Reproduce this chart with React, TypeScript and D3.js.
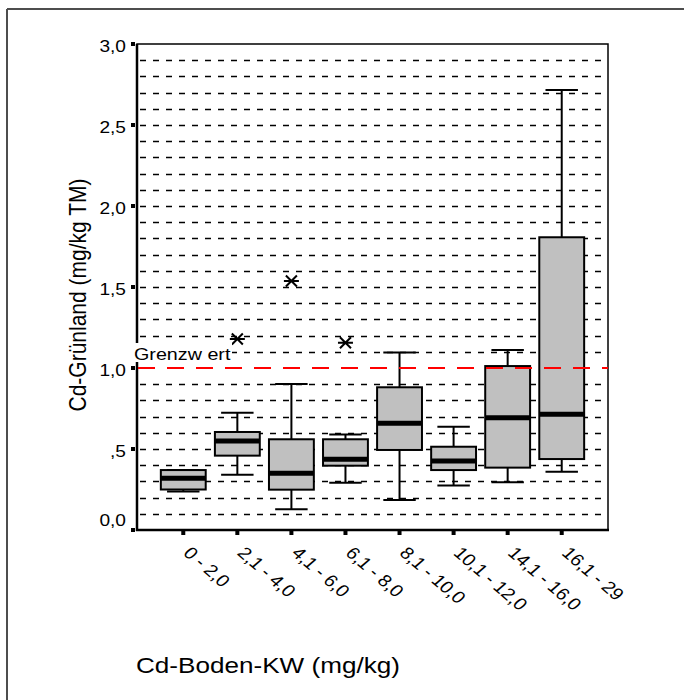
import React from 'react';
import * as d3 from 'd3';

const categories = ['0 - 2,0', '2,1 - 4,0', '4,1 - 6,0', '6,1 - 8,0', '8,1 - 10,0', '10,1 - 12,0', '14,1 - 16,0', '16,1 - 29'];
const lowerWhisker = [0.237, 0.341, 0.128, 0.292, 0.185, 0.274, 0.294, 0.36];
const q1 = [0.25, 0.459, 0.249, 0.397, 0.494, 0.37, 0.385, 0.438];
const median = [0.32, 0.549, 0.35, 0.436, 0.659, 0.426, 0.693, 0.714];
const q3 = [0.37, 0.605, 0.56, 0.56, 0.881, 0.514, 1.012, 1.807];
const upperWhisker = [0.37, 0.724, 0.901, 0.59, 1.095, 0.638, 1.111, 2.716];

const outlierCategory = ['2,1 - 4,0', '4,1 - 6,0', '6,1 - 8,0'];
const outlierValue = [1.179, 1.537, 1.156];

const yTicks = [0, 0.5, 1, 1.5, 2, 2.5, 3];
const yTickLabels = ['0,0', ',5', '1,0', '1,5', '2,0', '2,5', '3,0'];
const gridValues = d3.range(1, 30).map(i => i / 10);
const limitValue = 1.0;
const limitLabel = 'Grenzw ert';

const xTitle = 'Cd-Boden-KW (mg/kg)';
const yTitle = 'Cd-Grünland (mg/kg TM)';

const FONT = 'Arial, "Liberation Sans", sans-serif';
const SX = 1.16; // horizontal stretch of the exported text

export default function App() {
  const left = 137, right = 608, top = 44, bottom = 530;
  const x = d3.scalePoint<string>().domain(categories).range([left, right]).padding(0.856);
  const y = d3.scaleLinear().domain([0, 3]).range([bottom, top]);
  const step = x.step();
  const boxW = step * 0.83;
  const capW = step * 0.6;

  const star = (cx: number, cy: number) =>
    `M${cx - 7.5},${cy}L${cx + 7.5},${cy}M${cx - 5.5},${cy - 5.5}L${cx + 5.5},${cy + 5.5}M${cx - 5.5},${cy + 5.5}L${cx + 5.5},${cy - 5.5}`;

  return (
    <svg width={684} height={700} style={{ position: 'absolute', left: 0, top: 0, background: '#fff' }} fontFamily={FONT}>
      {/* outer frame (top + left only visible) */}
      <line x1={7} y1={9} x2={684} y2={9} stroke="#4d4d4d" strokeWidth={2} />
      <line x1={7} y1={9} x2={7} y2={700} stroke="#4d4d4d" strokeWidth={2} />

      {/* dashed grid */}
      {gridValues.filter(v => Math.abs(v - limitValue) > 1e-6).map(v => (
        <line key={v} x1={left + 3} x2={right} y1={Math.round(y(v)) + 0.5} y2={Math.round(y(v)) + 0.5}
          stroke="#000" strokeWidth={1.5} strokeDasharray="6 7" />
      ))}

      {/* plot frame */}
      <rect x={left} y={top} width={right - left} height={bottom - top} fill="none" stroke="#000" strokeWidth={1.5} />

      {/* boxes */}
      {categories.map((c, i) => {
        const cx = x(c)!;
        return (
          <g key={c}>
            <line x1={cx} x2={cx} y1={y(q3[i])} y2={y(upperWhisker[i])} stroke="#000" strokeWidth={2} />
            <line x1={cx} x2={cx} y1={y(q1[i])} y2={y(lowerWhisker[i])} stroke="#000" strokeWidth={2} />
            <line x1={cx - capW / 2} x2={cx + capW / 2} y1={y(upperWhisker[i])} y2={y(upperWhisker[i])} stroke="#000" strokeWidth={2} />
            <line x1={cx - capW / 2} x2={cx + capW / 2} y1={y(lowerWhisker[i])} y2={y(lowerWhisker[i])} stroke="#000" strokeWidth={2} />
            <rect x={cx - boxW / 2} y={y(q3[i])} width={boxW} height={y(q1[i]) - y(q3[i])}
              fill="#c0c0c0" stroke="#000" strokeWidth={2} />
            <line x1={cx - boxW / 2} x2={cx + boxW / 2} y1={y(median[i])} y2={y(median[i])} stroke="#000" strokeWidth={5} />
          </g>
        );
      })}

      {/* outliers */}
      {outlierCategory.map((c, i) => (
        <path key={c} d={star(x(c)!, y(outlierValue[i]))} stroke="#000" strokeWidth={2} fill="none" />
      ))}

      {/* axes */}
      <line x1={left} x2={left} y1={top} y2={bottom + 1} stroke="#000" strokeWidth={2.5} />
      <line x1={left - 1} x2={right + 1} y1={bottom} y2={bottom} stroke="#000" strokeWidth={2.5} />

      {/* limit line */}
      <line x1={left + 1} x2={right} y1={y(limitValue)} y2={y(limitValue)} stroke="#ff0000" strokeWidth={2} strokeDasharray="17 12" />
      <rect x={133} y={343} width={99} height={19} fill="#fff" />
      <text transform={`translate(134,360) scale(${SX},1)`} fontSize={17} fill="#000">{limitLabel}</text>

      {/* y ticks */}
      {yTicks.map((t, i) => (
        <g key={t}>
          <rect x={left - 6} y={y(t) - 2} width={4} height={4} fill="#000" />
          <text transform={`translate(126,${y(t) + (t === 0 ? -4 : 8)}) scale(${SX},1)`} textAnchor="end" fontSize={16.5} fill="#000">
            {yTickLabels[i]}
          </text>
        </g>
      ))}

      {/* x ticks */}
      {categories.map(c => (
        <g key={c}>
          <rect x={x(c)! - 2} y={bottom + 1} width={4} height={4} fill="#000" />
          <text transform={`translate(${x(c)! - 1},554) scale(${SX},1) rotate(45)`} fontSize={17} fill="#000">{c}</text>
        </g>
      ))}

      {/* titles */}
      <text transform={`translate(136,673) scale(${SX},1)`} fontSize={22.5} fill="#000">{xTitle}</text>
      <text transform={`translate(86,295) scale(${SX},1) rotate(-90)`} textAnchor="middle" fontSize={21} fill="#000">{yTitle}</text>
    </svg>
  );
}
